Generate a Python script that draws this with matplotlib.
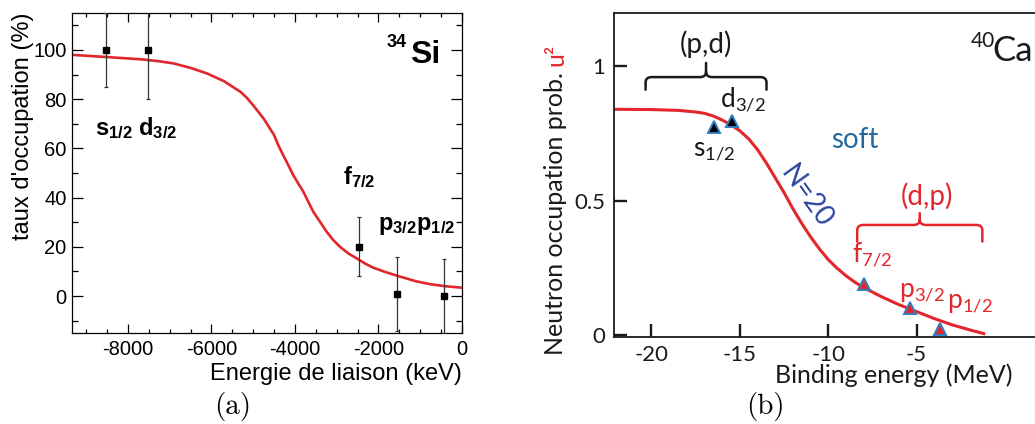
import matplotlib
matplotlib.use('Agg')
import matplotlib.pyplot as plt
from matplotlib.path import Path
from matplotlib.patches import PathPatch
from matplotlib.ticker import MultipleLocator, FixedLocator

plt.rcParams['axes.unicode_minus'] = False
plt.rcParams['mathtext.fontset'] = 'custom'
plt.rcParams['mathtext.rm'] = 'Lato'
plt.rcParams['mathtext.it'] = 'Lato:italic'
plt.rcParams['mathtext.bf'] = 'Liberation Sans:bold'

# ---- panel (a): 34Si, occupation vs binding energy (keV) ----
si_energy = [-8530, -7510, -2470, -1560, -420]
si_occ = [100, 100, 20, 1, 0]
si_err = [15, 20, 12, 15, 15]

# fitted curve
si_fit_e = [-9340, -8500, -7700, -7300, -6900, -6500, -6100, -5700, -5300, -5150,
            -5000, -4750, -4500, -4400, -4280, -4160, -4040, -3920, -3800, -3680,
            -3560, -3400, -3240, -3080, -2920, -2720, -2520, -2320, -2120, -1840,
            -1560, -1100, -750, -400, 0]
si_fit_occ = [98.0, 97.1, 96.2, 95.5, 94.5, 92.7, 90.4, 87.3, 82.9, 80.5,
              77.5, 72.1, 65.4, 61.3, 57.2, 53.2, 49.1, 45.7, 42.4, 38.3,
              34.2, 30.2, 26.1, 22.7, 20.0, 17.3, 15.3, 13.2, 11.5, 9.8,
              8.3, 6.0, 4.8, 4.0, 3.4]

# ---- panel (b): 40Ca, neutron occupation vs binding energy (MeV) ----
ca_fit_e = [-22.0, -20.0, -18.5, -17.5, -17.0, -16.5, -16.0, -15.5, -15.0, -14.5,
            -14.0, -13.5, -13.0, -12.5, -12.0, -11.5, -11.0, -10.5, -10.0, -9.5,
            -9.0, -8.5, -8.0, -7.0, -6.0, -5.0, -4.0, -3.0, -2.0, -1.2]
ca_fit_u2 = [0.840, 0.839, 0.836, 0.830, 0.825, 0.815, 0.800, 0.782, 0.760, 0.730,
             0.690, 0.640, 0.585, 0.530, 0.470, 0.415, 0.365, 0.320, 0.280, 0.248,
             0.220, 0.196, 0.176, 0.142, 0.112, 0.086, 0.060, 0.037, 0.018, 0.004]
pd_states = ['s_{1/2}', 'd_{3/2}']
pd_e = [-16.45, -15.42]
pd_u2 = [0.774, 0.796]
dp_states = ['f_{7/2}', 'p_{3/2}', 'p_{1/2}']
dp_e = [-7.98, -5.38, -3.68]
dp_u2 = [0.19, 0.10, 0.02]
pd_span = [-20.33, -13.49]
dp_span = [-8.36, -1.28]

RED = '#e3262b'
W, H = 1035, 424

fig = plt.figure(figsize=(W / 100, H / 100), dpi=100)

# ================= (a) =================
ax = fig.add_axes([72 / W, 1 - 333 / H, 390 / W, 320 / H])
ax.errorbar(si_energy, si_occ, yerr=si_err, fmt='s', color='black', ms=4.5,
            ecolor='#333333', elinewidth=0.9, capsize=1.5, capthick=0.9, zorder=3)
ax.plot(si_fit_e, si_fit_occ, color=RED, lw=1.9, zorder=2, solid_joinstyle='round')
ax.set_xlim(-9340, 0)
ax.set_ylim(-15, 115)
ax.xaxis.set_major_locator(FixedLocator([-8000, -6000, -4000, -2000, 0]))
ax.xaxis.set_minor_locator(MultipleLocator(500))
ax.yaxis.set_major_locator(MultipleLocator(20))
ax.yaxis.set_minor_locator(MultipleLocator(10))
ax.tick_params(which='both', direction='in', top=True, right=True, width=0.9,
               labelsize=14.5, labelfontfamily='Liberation Sans', colors='black')
ax.tick_params(axis='y', which='major', length=8, pad=4)
ax.tick_params(axis='y', which='minor', length=4.3)
ax.tick_params(axis='x', which='major', length=6.5, pad=5)
ax.tick_params(axis='x', which='minor', length=3.2)
for s in ax.spines.values():
    s.set_linewidth(0.9)

fig.text(462 / W, 1 - 380 / H, 'Energie de liaison (keV)', ha='right', va='baseline',
         fontsize=17, family='Liberation Sans')
fig.text(29 / W, 1 - 13 / H, "taux d'occupation (%)", rotation=90, rotation_mode='anchor',
         ha='right', va='baseline', fontsize=17, family='Liberation Sans')

ax.text(-8790, 65.4, r'$\mathbf{s_{1/2}\ d_{3/2}}$', fontsize=17, va='baseline')
ax.text(-2850, 45.5, r'$\mathbf{f_{7/2}}$', fontsize=17, va='baseline')
ax.text(-2004, 26.8, r'$\mathbf{p_{3/2}p_{1/2}}$', fontsize=17, va='baseline')
ax.text(-1245, 94.7, 'Si', fontsize=23, fontweight='bold', family='Liberation Sans', va='baseline')
ax.text(-1796, 101.1, '34', fontsize=13, fontweight='bold', family='Liberation Sans', va='baseline')

fig.text(233 / W, 1 - 406.7 / H, '(a)', ha='center', va='center', fontsize=21, family='cmr10')

# ================= (b) =================
bx = fig.add_axes([614.3 / W, 1 - 336.7 / H, (W - 614.3) / W, 324 / H])
bx.plot(ca_fit_e, ca_fit_u2, color=RED, lw=2.2, zorder=2, solid_joinstyle='round')
bx.plot(pd_e, pd_u2, '^', ms=9, mfc='black', mec='#2f7fc1', mew=1.4, zorder=3)
bx.plot(dp_e, dp_u2, '^', ms=9, mfc=RED, mec='#2f7fc1', mew=1.4, zorder=3)
bx.set_xlim(-22.1, 1.7)
bx.set_ylim(-0.0075, 1.2)
bx.set_xticks([-20, -15, -10, -5])
bx.set_xticklabels(['-20', '-15', '-10', '-5'])
bx.set_yticks([0, 0.5, 1])
bx.set_yticklabels(['0', '0.5', '1'])
bx.tick_params(direction='in', length=9.5, width=1.7, labelsize=16, labelfontfamily='Lato',
               colors='#1a1a1a')
bx.tick_params(axis='x', pad=6)
bx.tick_params(axis='y', pad=6.5)
bx.spines['right'].set_visible(False)
for s in ['left', 'top', 'bottom']:
    bx.spines[s].set_linewidth(1.3)
    bx.spines[s].set_color('#1a1a1a')


def bracket(a, x0, x1, y, drop, tip, color):
    xm = (x0 + x1) / 2
    rx, ry = 0.35, 0.02
    verts = [(x0, y - drop), (x0, y - ry), (x0, y), (x0 + rx, y), (xm - rx, y), (xm, y), (xm, y + ry),
             (xm, y + tip),
             (xm, y + ry), (xm, y), (xm + rx, y), (x1 - rx, y), (x1, y), (x1, y - ry), (x1, y - drop)]
    codes = [Path.MOVETO, Path.LINETO, Path.CURVE3, Path.CURVE3, Path.LINETO, Path.CURVE3, Path.CURVE3,
             Path.LINETO,
             Path.MOVETO, Path.CURVE3, Path.CURVE3, Path.LINETO, Path.CURVE3, Path.CURVE3, Path.LINETO]
    a.add_patch(PathPatch(Path(verts, codes), fill=False, ec=color, lw=1.8, capstyle='round'))


bracket(bx, pd_span[0], pd_span[1], 0.960, 0.047, 0.053, '#1a1a1a')
bracket(bx, dp_span[0], dp_span[1], 0.409, 0.062, 0.044, RED)

bx.text(-16.9, 1.081, '(p,d)', ha='center', va='center', fontsize=20, family='Lato', color='#1a1a1a')
bx.text(-4.43, 0.515, '(d,p)', ha='center', va='center', fontsize=20, family='Lato', color=RED)
bx.text(-16.14, 0.851, r'$\mathrm{d_{3/2}}$', fontsize=19, va='baseline', color='#1a1a1a')
bx.text(-17.65, 0.670, r'$\mathrm{s_{1/2}}$', fontsize=19, va='baseline', color='#1a1a1a')
bx.text(-8.68, 0.272, r'$\mathrm{f_{7/2}}$', fontsize=19, va='baseline', color=RED)
bx.text(-5.99, 0.140, r'$\mathrm{p_{3/2}}$', fontsize=19, va='baseline', color=RED)
bx.text(-3.30, 0.0985, r'$\mathrm{p_{1/2}}$', fontsize=19, va='baseline', color=RED)
bx.text(-9.81, 0.695, 'soft', fontsize=20, family='Lato', va='baseline', color='#24689c')
bx.text(-11.23, 0.515, 'N=20', fontsize=20, family='Lato', ha='center', va='center',
        rotation=-54.5, rotation_mode='anchor', color='#2d44a0')
bx.text(-1.95, 1.0735, '40', fontsize=15, family='Lato', va='baseline', color='#1a1a1a')
bx.text(-0.72, 1.0187, 'Ca', fontsize=25, family='Lato', va='baseline', color='#1a1a1a')

fig.text(894 / W, 1 - 383.3 / H, 'Binding energy (MeV)', ha='center', va='baseline',
         fontsize=18, family='Lato', color='#1a1a1a')
ylab = fig.text(563.3 / W, 1 - 355 / H, 'Neutron occupation prob.', rotation=90,
                rotation_mode='anchor', ha='left', va='baseline', fontsize=18, family='Lato',
                color='#1a1a1a')
fig.canvas.draw()
bb = ylab.get_window_extent()
fig.text(563.3 / W, (bb.y1 + 6) / H, 'u²', rotation=90, rotation_mode='anchor', ha='left',
         va='baseline', fontsize=18, family='Lato', color=RED)

fig.text(765 / W, 1 - 406.7 / H, '(b)', ha='center', va='center', fontsize=21, family='cmr10')

fig.savefig('out.png', dpi=100)
